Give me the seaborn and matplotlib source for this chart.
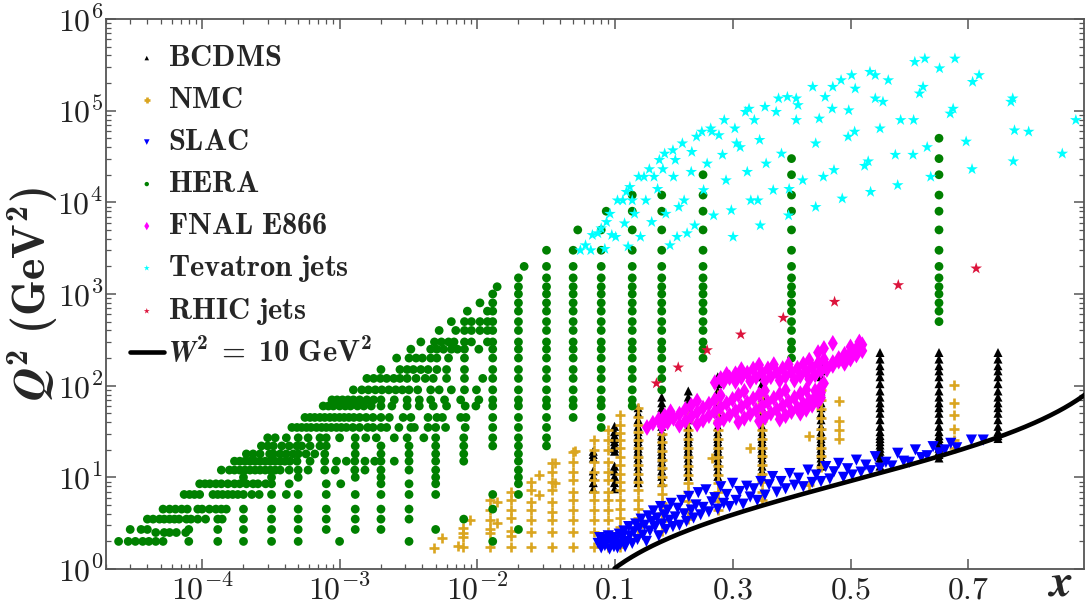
import numpy as np
import pandas as pd
import matplotlib
matplotlib.use("Agg")
import matplotlib.pyplot as plt
import seaborn as sns
from matplotlib.ticker import FixedLocator, FixedFormatter, NullFormatter, LogLocator

# ---------------- data ----------------
# HERA, low-x part: one row per Q^2 bin, listing the x values of that row
hera_row_q2 = [2.0, 2.5, 2.7, 3.5, 4.5, 6.5, 8.5, 10, 12, 15, 18, 22, 27, 35, 45,
               60, 70, 90, 120, 150, 200, 250, 300, 400, 500, 650, 800]
hera_row_x = [
    [2.47e-5, 2.9e-5, 3.27e-5, 3.7e-5, 4.1e-5, 4.6e-5, 5.2e-5, 8.0e-5, 1.3e-4, 2.0e-4, 3.2e-4, 5.0e-4, 1.0e-3, 3.2e-3],
    [4.6e-5, 5.3e-5, 5.8e-5, 6.5e-5, 7.6e-5],
    [3.0e-5, 3.6e-5, 4.0e-5, 8.0e-5, 1.3e-4, 2.0e-4, 3.2e-4, 5.0e-4, 8.0e-4, 1.3e-3, 2.0e-3, 5.0e-3],
    [4.0e-5, 4.4e-5, 4.9e-5, 5.3e-5, 5.8e-5, 6.3e-5, 6.8e-5, 7.7e-5, 8.3e-5, 9.3e-5, 1.06e-4, 1.3e-4, 1.4e-4,
     2.0e-4, 3.2e-4, 5.0e-4, 8.0e-4, 1.3e-3, 2.0e-3, 3.2e-3, 8.0e-3],
    [5.2e-5, 5.8e-5, 6.4e-5, 7.1e-5, 7.8e-5, 9.3e-5, 1.0e-4, 1.13e-4, 1.26e-4, 1.38e-4, 1.5e-4, 2.0e-4, 3.2e-4,
     5.0e-4, 8.0e-4, 1.3e-3, 2.0e-3, 3.2e-3],
    [7.4e-5, 8.1e-5, 8.8e-5, 9.6e-5, 1.2e-4, 1.3e-4, 1.41e-4, 1.54e-4, 1.67e-4, 1.82e-4, 2.0e-4, 2.3e-4, 2.6e-4,
     3.2e-4, 4.1e-4, 5.0e-4, 8.0e-4, 1.3e-3, 2.0e-3, 3.2e-3, 5.0e-3],
    [9.6e-5, 1.05e-4, 1.14e-4, 1.26e-4, 1.38e-4, 1.54e-4, 1.72e-4, 1.88e-4, 2.1e-4, 2.35e-4, 2.55e-4, 2.9e-4,
     3.2e-4, 4.3e-4, 8.0e-4, 1.02e-3, 2.0e-3, 3.2e-3, 5.0e-3],
    [2.0e-4, 3.2e-4, 5.0e-4, 1.3e-3, 2.0e-3, 5.0e-3],
    [1.38e-4, 1.58e-4, 1.72e-4, 1.88e-4, 2.05e-4, 2.23e-4, 2.43e-4, 2.64e-4, 2.88e-4, 3.13e-4, 3.4e-4, 3.7e-4,
     4.3e-4, 5.0e-4, 5.9e-4, 7.8e-4, 9.3e-4, 1.29e-3, 1.53e-3, 2.0e-3, 3.2e-3, 5.0e-3],
    [1.72e-4, 1.88e-4, 2.05e-4, 2.23e-4, 2.43e-4, 2.64e-4, 2.88e-4, 3.13e-4, 3.4e-4, 3.7e-4, 4.0e-4, 4.35e-4,
     4.9e-4, 6.1e-4, 7.8e-4, 9.5e-4, 1.12e-3, 1.29e-3, 1.53e-3, 1.8e-3, 2.0e-3, 2.5e-3, 3.2e-3, 5.0e-3, 8.0e-3],
    [2.1e-4, 2.35e-4, 2.64e-4, 3.1e-4, 3.3e-4, 3.7e-4, 4.1e-4, 4.6e-4, 5.0e-4, 5.7e-4, 6.6e-4, 7.8e-4, 1.3e-3,
     2.0e-3, 3.2e-3, 5.0e-3, 8.0e-3],
    [2.7e-4, 3.0e-4, 3.3e-4, 3.8e-4, 4.3e-4, 4.9e-4, 5.3e-4, 6.1e-4, 7.2e-4, 8.0e-4, 1.3e-3, 2.0e-3, 3.2e-3,
     5.0e-3, 8.0e-3],
    [3.0e-4, 3.4e-4, 4.1e-4, 5.0e-4, 5.9e-4, 7.2e-4, 8.0e-4, 1.0e-3, 1.3e-3, 1.55e-3, 1.85e-3, 2.5e-3, 3.1e-3,
     4.1e-3, 5.0e-3, 8.0e-3],
    [4.5e-4, 4.9e-4, 5.3e-4, 5.75e-4, 6.2e-4, 6.8e-4, 7.4e-4, 8.0e-4, 8.7e-4, 9.5e-4, 1.03e-3, 1.12e-3, 1.25e-3,
     1.4e-3, 1.6e-3, 1.75e-3, 2.0e-3, 2.2e-3, 2.7e-3, 3.3e-3, 3.5e-3, 4.4e-3, 5.0e-3, 5.9e-3, 8.2e-3],
    [5.6e-4, 6.1e-4, 6.6e-4, 7.2e-4, 7.8e-4, 8.5e-4, 9.2e-4, 1.0e-3, 1.08e-3, 1.17e-3, 1.27e-3, 1.4e-3, 1.56e-3,
     1.75e-3, 2.0e-3, 2.3e-3, 2.9e-3, 3.3e-3, 4.4e-3, 5.1e-3, 5.6e-3, 7.6e-3, 8.3e-3],
    [7.6e-4, 8.3e-4, 9.0e-4, 1.0e-3, 1.1e-3, 1.2e-3, 1.35e-3, 1.5e-3, 1.7e-3, 2.0e-3, 2.4e-3, 3.1e-3, 3.8e-3,
     4.8e-3, 6.0e-3, 8.2e-3, 9.8e-3],
    [8.8e-4, 9.6e-4, 1.05e-3, 1.15e-3, 1.26e-3, 1.4e-3, 1.58e-3, 1.77e-3, 2.0e-3, 2.5e-3, 3.1e-3, 3.8e-3, 4.6e-3,
     5.8e-3, 7.6e-3, 1.03e-2],
    [1.26e-3, 1.45e-3, 1.62e-3, 1.82e-3, 2.03e-3, 2.28e-3, 2.56e-3, 2.86e-3, 3.2e-3, 3.7e-3, 4.6e-3, 5.3e-3,
     6.5e-3, 8.1e-3, 9.9e-3],
    [1.58e-3, 1.77e-3, 1.98e-3, 2.2e-3, 2.48e-3, 2.75e-3, 3.1e-3, 3.6e-3, 4.2e-3, 4.8e-3, 6.0e-3, 8.1e-3, 1.1e-2],
    [2.0e-3, 2.75e-3, 3.1e-3, 3.44e-3, 3.9e-3, 4.4e-3, 5.1e-3, 6.0e-3, 8.1e-3],
    [2.6e-3, 3.2e-3, 3.6e-3, 4.0e-3, 4.6e-3, 5.1e-3, 6.2e-3, 8.1e-3],
    [3.3e-3, 4.6e-3, 5.1e-3, 5.7e-3, 6.5e-3, 7.2e-3, 8.1e-3, 1.03e-2],
    [3.9e-3, 4.9e-3, 5.5e-3, 6.2e-3, 6.8e-3, 8.1e-3, 9.1e-3, 1.19e-2],
    [5.3e-3, 7.0e-3, 8.1e-3, 9.1e-3, 1.05e-2, 1.19e-2],
    [6.5e-3, 8.1e-3, 9.1e-3, 1.05e-2, 1.19e-2],
    [8.5e-3, 1.19e-2],
    [1.05e-2],
]
# HERA, high-x part: one column per x value, listing its Q^2 values
hera_col_x = [0.013, 0.014, 0.02, 0.022, 0.032, 0.05, 0.054, 0.08, 0.087, 0.13, 0.18, 0.25, 0.4, 0.65]
hera_col_q2 = [
    [2.0, 4.5, 6.5, 22, 27, 35, 45, 60, 70, 90, 120, 150, 200, 250, 300, 400, 500, 650, 800, 1000],
    [1200],
    [2.7, 6.5, 8.5, 10, 12, 15, 18, 22, 27, 35, 45, 60, 70, 90, 120, 150, 200, 250, 300, 400, 500, 650, 800,
     1000, 1200, 1500],
    [2000],
    [22, 27, 35, 45, 60, 70, 90, 120, 150, 200, 250, 300, 400, 500, 650, 800, 1000, 1200, 1500, 2000, 3000],
    [45, 60, 70, 90, 120, 150, 200, 250, 300, 400, 500, 650, 800, 1000, 1200, 1500, 2000, 3000],
    [5000],
    [35, 45, 60, 70, 90, 120, 150, 200, 250, 300, 400, 500, 650, 800, 1000, 1200, 1500, 2000, 3000, 5000],
    [8000],
    [60, 70, 90, 120, 150, 200, 250, 300, 400, 500, 650, 800, 1000, 1200, 1500, 2000, 3000, 5000, 8000, 12000],
    [90, 120, 150, 200, 250, 300, 400, 500, 650, 800, 1000, 1200, 1500, 2000, 3000, 5000, 8000, 12000],
    [200, 250, 300, 400, 500, 650, 800, 1000, 1200, 1500, 2000, 3000, 5000, 8000, 12000, 20000],
    [200, 250, 300, 400, 500, 650, 800, 1000, 1200, 1500, 2000, 3000, 5000, 8000, 12000, 20000, 30000],
    [500, 650, 800, 1000, 1200, 1500, 2000, 3000, 5000, 8000, 12000, 20000, 30000, 50000],
]

# BCDMS columns
bcdms_x = [0.07, 0.10, 0.14, 0.18, 0.225, 0.275, 0.35, 0.45, 0.55, 0.65, 0.75]
bcdms_q2 = [
    [7.5, 8.75, 10.25, 11.75, 16.25, 17.75, 19.25],
    [7.5, 8.75, 10.25, 11.75, 13.25, 19.25, 20.75, 22.5, 24.5, 26.5, 28.5, 31.5, 36],
    [8.75, 10.25, 11.75, 13.25, 14.75, 16.25, 17.75, 19.25, 20.75, 22.5, 24.5, 26.5, 28.5, 31.5, 36, 42.5, 50, 57.5],
    [8.75, 10.25, 11.75, 13.25, 14.75, 16.25, 17.75, 19.25, 20.75, 22.5, 24.5, 26.5, 28.5, 31.5, 36, 42.5, 50,
     57.5, 65, 75],
    [10.25, 11.75, 13.25, 14.75, 16.25, 17.75, 19.25, 20.75, 22.5, 24.5, 26.5, 28.5, 31.5, 36, 42.5, 50, 57.5,
     65, 75, 87.5],
    [10.25, 11.75, 13.25, 14.75, 16.25, 17.75, 19.25, 20.75, 22.5, 24.5, 26.5, 28.5, 31.5, 36, 42.5, 50, 57.5,
     65, 75, 87.5, 105, 125],
    [10.25, 11.75, 13.25, 14.75, 16.25, 17.75, 19.25, 20.75, 22.5, 24.5, 26.5, 28.5, 31.5, 36, 42.5, 50, 57.5,
     65, 75, 87.5, 105, 125],
    [13.25, 14.75, 16.25, 17.75, 19.25, 20.75, 22.5, 24.5, 26.5, 28.5, 31.5, 36, 42.5, 50, 57.5, 65, 75, 87.5,
     105, 125, 145, 165],
    [13.25, 14.75, 16.25, 17.75, 19.25, 20.75, 22.5, 24.5, 26.5, 28.5, 31.5, 36, 42.5, 50, 57.5, 65, 75, 87.5,
     105, 125, 145, 165, 195, 230],
    [16.25, 17.75, 19.25, 20.75, 22.5, 24.5, 26.5, 28.5, 31.5, 36, 42.5, 50, 57.5, 65, 75, 87.5, 105, 125, 145,
     165, 195, 230],
    [26.5, 28.5, 31.5, 36, 42.5, 50, 57.5, 65, 75, 87.5, 105, 125, 145, 165, 195, 230],
]

# NMC columns
nmc_x = [0.0049, 0.0056, 0.0073, 0.0079, 0.0089, 0.0125, 0.014, 0.0176, 0.0247, 0.028, 0.035, 0.037, 0.05,
         0.052, 0.071, 0.09, 0.11, 0.14, 0.18, 0.225, 0.265, 0.275, 0.33, 0.35, 0.43, 0.45, 0.48, 0.675]
nmc_q2 = [
    [1.7], [2.2], [1.8], [1.75, 2.25, 2.5, 2.8], [3.4],
    [1.75, 2.5, 2.7, 3.4, 4.4, 5.7], [3.2, 5.4],
    [1.75, 2.3, 2.6, 3.6, 4.4, 5.7, 7.0],
    [1.75, 2.55, 3.4, 4.4, 5.4, 7.3, 8.9], [6.4, 10.6],
    [1.75, 2.55, 3.4, 4.2, 5.4, 7.3, 8.9, 11.5, 14.2], [8.6, 14.2],
    [1.75, 2.55, 3.4, 4.4, 5.7, 7.0, 9.3, 11.5, 14.8, 19.0], [19.5],
    [1.75, 2.55, 3.4, 4.4, 5.7, 7.0, 9.3, 11.5, 14.8, 19.8, 25.6],
    [1.75, 2.55, 3.4, 4.4, 5.7, 7.0, 9.3, 11.5, 14.8, 19.8, 25.6, 32.8],
    [1.75, 2.25, 2.9, 3.6, 4.5, 5.7, 7.3, 9.0, 11.0, 13.6, 16.8, 20.7, 25.5, 30.7, 37.1, 47.8],
    [2.3, 2.9, 3.6, 4.5, 5.7, 7.3, 9.0, 11.0, 13.6, 16.8, 20.7, 25.5, 31.0, 37.0, 46.0, 57.0],
    [2.6, 3.3, 4.1, 5.2, 6.5, 8.2, 10.2, 12.6, 15.6, 19.4, 24.0, 30.0, 37.0, 46.0],
    [3.5, 4.4, 5.5, 6.9, 8.6, 10.7, 13.4, 16.8, 21.0, 26.0, 33.0, 41.0, 48.0],
    [16.2],
    [4.4, 5.5, 6.9, 8.6, 10.7, 13.4, 16.8, 21.0, 26.0, 33.0, 41.0, 52.0, 65.0, 80.0],
    [20.7],
    [5.7, 7.0, 8.8, 11.0, 13.6, 17.0, 21.0, 26.0, 33.0, 41.0, 52.0, 65.0, 78.0],
    [8.2, 28.0],
    [13.0, 17.0, 21.0, 27.0, 34.0, 44.0, 56.0, 70.0, 90.0],
    [26.0, 33.0, 41.0, 68.0],
    [20.7, 25.5, 34.0, 48.0, 64.0, 101.0],
]

# SLAC points
slac_x = [0.076, 0.078, 0.080, 0.083, 0.085, 0.088, 0.090, 0.092, 0.095, 0.097, 0.099,
          0.102, 0.105, 0.108, 0.110, 0.113, 0.116, 0.118, 0.121, 0.124, 0.126, 0.130, 0.133, 0.136, 0.139,
          0.142, 0.145, 0.148, 0.151, 0.154, 0.157, 0.160, 0.163, 0.166, 0.169, 0.172, 0.175, 0.178, 0.181,
          0.184, 0.187, 0.190, 0.193, 0.196, 0.199,
          0.203, 0.207, 0.210, 0.214, 0.218, 0.222, 0.226, 0.230, 0.234, 0.238, 0.242, 0.246, 0.250, 0.255,
          0.260, 0.265, 0.270, 0.275, 0.280, 0.285, 0.290, 0.295, 0.300, 0.306, 0.312, 0.318, 0.324, 0.330,
          0.336, 0.342, 0.348,
          0.355, 0.362, 0.368, 0.375, 0.382, 0.390, 0.397, 0.405, 0.412, 0.420, 0.428, 0.435, 0.442, 0.450,
          0.458, 0.465, 0.472, 0.480, 0.488, 0.495, 0.503, 0.510, 0.518, 0.526, 0.534, 0.542, 0.550,
          0.560, 0.570, 0.580, 0.590, 0.600, 0.610, 0.620, 0.630, 0.640, 0.650, 0.660, 0.670, 0.680, 0.705,
          0.725]
slac_q2 = [1.9, 2.2, 1.7, 2.1, 1.8, 2.0, 2.3, 1.65, 1.95, 2.2, 1.75,
           2.05, 1.7, 2.4, 1.85, 2.2, 2.6, 1.75, 2.0, 2.9, 2.3, 1.9, 2.55, 3.1, 2.1,
           2.8, 3.5, 2.35, 3.0, 2.0, 3.8, 2.6, 3.3, 4.3, 2.9, 3.6, 2.3, 4.8, 3.1,
           3.9, 2.7, 4.4, 3.4, 5.2, 2.9,
           3.7, 4.6, 3.0, 5.6, 4.0, 3.3, 6.2, 4.4, 3.6, 5.0, 6.8, 3.9, 4.7, 7.3,
           4.2, 5.4, 6.0, 4.5, 7.9, 5.2, 6.5, 4.8, 8.6, 5.6, 7.0, 5.1, 8.0, 6.1,
           7.5, 5.6, 9.0,
           6.4, 8.3, 10.2, 6.9, 9.0, 7.5, 11.0, 8.2, 9.8, 7.9, 12.0, 8.8, 10.6, 9.0,
           13.1, 9.6, 11.5, 14.2, 10.0, 12.4, 10.6, 15.4, 11.4, 13.6, 11.8, 16.8, 12.6,
           14.6, 13.3, 18.3, 15.0, 14.6, 19.9, 16.4, 17.2, 21.6, 18.5, 19.9, 23.5, 21.0, 25.5,
           25.5]

# FNAL E866 points (lower and upper bands)
e866_x = [0.155, 0.165, 0.175, 0.185, 0.195,
          0.18, 0.19, 0.20, 0.21, 0.22, 0.23, 0.24,
          0.21, 0.22, 0.23, 0.24, 0.25, 0.26, 0.27, 0.28,
          0.24, 0.25, 0.26, 0.27, 0.28, 0.29, 0.30, 0.31, 0.32,
          0.275, 0.285, 0.295, 0.305, 0.315, 0.325, 0.335, 0.345, 0.355,
          0.31, 0.32, 0.33, 0.34, 0.35, 0.36, 0.37, 0.38, 0.39,
          0.345, 0.355, 0.365, 0.375, 0.385, 0.395, 0.405, 0.415, 0.425,
          0.38, 0.39, 0.40, 0.41, 0.42, 0.43, 0.44, 0.45,
          0.415, 0.425, 0.435, 0.445, 0.45, 0.44, 0.45, 0.455,
          0.27, 0.28, 0.29,
          0.285, 0.295, 0.305, 0.315,
          0.305, 0.315, 0.325, 0.335, 0.345,
          0.33, 0.34, 0.35, 0.36, 0.37,
          0.355, 0.365, 0.375, 0.385, 0.395,
          0.38, 0.39, 0.40, 0.41, 0.42, 0.43,
          0.405, 0.415, 0.425, 0.435, 0.445, 0.455,
          0.43, 0.44, 0.45, 0.46, 0.47, 0.48, 0.49,
          0.46, 0.47, 0.48, 0.49, 0.50, 0.51, 0.52,
          0.49, 0.50, 0.51, 0.52,
          0.445, 0.455, 0.47, 0.50, 0.515]
e866_q2 = [35, 39, 43, 47, 52,
           36, 40, 44, 49, 55, 61, 68,
           37, 41, 46, 51, 57, 63, 70, 78,
           38, 42, 47, 52, 58, 64, 71, 79, 87,
           39, 43, 48, 53, 59, 65, 72, 80, 88,
           40, 44, 49, 54, 60, 66, 73, 81, 89,
           41, 45, 50, 55, 61, 67, 74, 82, 90,
           43, 47, 52, 57, 63, 69, 76, 84,
           50, 55, 61, 67, 74, 88, 98, 106,
           108, 120, 133,
           110, 122, 135, 150,
           111, 123, 137, 152, 168,
           112, 124, 138, 153, 170,
           113, 125, 139, 154, 171,
           114, 126, 140, 155, 172, 190,
           115, 128, 142, 158, 175, 194,
           118, 131, 145, 161, 179, 198, 220,
           150, 166, 185, 205, 228, 253, 280,
           175, 195, 216, 240,
           230, 255, 290, 265, 300]

# Tevatron jets
tev_x = [0.0564, 0.0615, 0.0672, 0.069, 0.0756, 0.080, 0.085, 0.0875, 0.0927, 0.0955, 0.102, 0.105, 0.114,
         0.117, 0.120, 0.123, 0.126, 0.130, 0.134, 0.141, 0.144, 0.150, 0.153, 0.159, 0.163, 0.167, 0.173,
         0.176, 0.182, 0.185, 0.187, 0.194, 0.199, 0.200, 0.203, 0.206, 0.209, 0.215, 0.218, 0.223, 0.230,
         0.231, 0.236, 0.239, 0.248, 0.251, 0.257, 0.263, 0.265, 0.268, 0.277, 0.283, 0.286, 0.289, 0.298,
         0.301, 0.304, 0.307, 0.313, 0.322, 0.325, 0.328, 0.331, 0.337, 0.343, 0.346, 0.347, 0.355, 0.357,
         0.369, 0.374, 0.378, 0.383, 0.393, 0.396, 0.395, 0.408, 0.408, 0.411, 0.419, 0.436, 0.441, 0.441,
         0.447, 0.454, 0.457, 0.469, 0.470, 0.472, 0.484, 0.486, 0.496, 0.497, 0.502, 0.507, 0.508, 0.524,
         0.530, 0.533, 0.534, 0.542, 0.542, 0.550, 0.555, 0.564, 0.576, 0.580, 0.585, 0.606, 0.607, 0.609,
         0.617, 0.623, 0.626, 0.630, 0.636, 0.651, 0.669, 0.674, 0.677, 0.696, 0.706, 0.707, 0.718, 0.772,
         0.775, 0.776, 0.778, 0.802, 0.859, 0.882]
tev_q2 = [3000, 3400, 3000, 4400, 4600, 5200, 3100, 6100, 7500, 4400, 4200, 10500, 10500,
          5900, 13000, 3300, 14700, 10500, 7500, 19000, 4200, 19000, 10500, 23000, 6100, 19000, 14000,
          29000, 23000, 34000, 7500, 3400, 37000, 19000, 29000, 4200, 8900, 44000, 10500, 4600, 21500,
          35500, 5600, 52000, 59000, 13600, 26500, 64000, 59000, 7200, 54000, 33000, 79000, 17400, 8200,
          4200, 64000, 44000, 40000, 97000, 21500, 105000, 10500, 79000, 10500, 48000, 5600, 110000, 26500,
          13600, 97000, 136000, 34000, 141000, 14000, 7200, 136000, 79000, 115000, 17400, 182000, 8900, 44000,
          82000, 19000, 141000, 105000, 182000, 22500, 215000, 11000, 52000, 101000, 244000, 59000, 174000,
          25000, 28000, 265000, 13000, 244000, 136000, 64000, 125000, 215000, 33000, 15400, 79000, 33000,
          79000, 340000, 154000, 182000, 370000, 40000, 19000, 290000, 93000, 105000, 370000, 46000, 23000,
          206000, 244000, 125000, 136000, 28000, 61000, 59000, 34000, 79000]

# RHIC jets
rhic_x = [0.171, 0.208, 0.257, 0.314, 0.386, 0.473, 0.581, 0.713]
rhic_q2 = [106, 158, 244, 362, 550, 822, 1250, 1900]

# W^2 = 10 GeV^2 boundary
w2_value = 10.0
proton_mass = 0.938
curve_x_range = (0.1, 0.9)

# tick labels
x_major = [1e-4, 1e-3, 1e-2, 0.1, 0.3, 0.5, 0.7]
x_major_labels = [r"$10^{-4}$", r"$10^{-3}$", r"$10^{-2}$", r"$0.1$", r"$0.3$", r"$0.5$", r"$0.7$"]
y_major = [1, 10, 100, 1e3, 1e4, 1e5, 1e6]
y_major_labels = [r"$10^{0}$", r"$10^{1}$", r"$10^{2}$", r"$10^{3}$", r"$10^{4}$", r"$10^{5}$", r"$10^{6}$"]

# ---------------- assemble ----------------
def from_rows(name, q2s, xlists):
    assert len(q2s) == len(xlists)
    return [(name, xv, q) for q, xs in zip(q2s, xlists) for xv in xs]

def from_cols(name, xs, q2lists):
    assert len(xs) == len(q2lists)
    return [(name, xv, q) for xv, qs in zip(xs, q2lists) for q in qs]

assert len(slac_x) == len(slac_q2)
assert len(e866_x) == len(e866_q2)
assert len(tev_x) == len(tev_q2)

recs = []
recs += from_cols("BCDMS", bcdms_x, bcdms_q2)
recs += from_cols("NMC", nmc_x, nmc_q2)
recs += [("SLAC", a, b) for a, b in zip(slac_x, slac_q2)]
recs += from_rows("HERA", hera_row_q2, hera_row_x)
recs += from_cols("HERA", hera_col_x, hera_col_q2)
recs += [("FNAL E866", a, b) for a, b in zip(e866_x, e866_q2)]
recs += [("Tevatron jets", a, b) for a, b in zip(tev_x, tev_q2)]
recs += [("RHIC jets", a, b) for a, b in zip(rhic_x, rhic_q2)]
df = pd.DataFrame(recs, columns=["set", "x", "Q2"])

cx = np.linspace(curve_x_range[0], curve_x_range[1], 300)
curve = pd.DataFrame({"x": cx, "Q2": (w2_value - proton_mass ** 2) * cx / (1 - cx)})

# ---------------- style ----------------
sns.set_style("ticks")
plt.rcParams.update({
    "mathtext.fontset": "custom",
    "mathtext.rm": "cmr10",
    "mathtext.it": "cmmi10",
    "mathtext.bf": "cmb10",
    "mathtext.bfit": "STIXGeneral:italic:bold",
    "mathtext.fallback": "cm",
    "font.family": ["DejaVu Serif"],
    "axes.unicode_minus": False,
    "xtick.direction": "in", "ytick.direction": "in",
    "xtick.top": True, "ytick.right": True,
})

W, H = 1089, 607
fig = plt.figure(figsize=(W / 100, H / 100), dpi=100)
ax = fig.add_axes([106 / W, 38 / H, 978 / W, 550 / H])

styles = [
    ("BCDMS", "black", "^", 42, r"$\mathbf{BCDMS}$"),
    ("NMC", "goldenrod", "+", 55, r"$\mathbf{NMC}$"),
    ("SLAC", "blue", "v", 65, r"$\mathbf{SLAC}$"),
    ("HERA", "green", "o", 40, r"$\mathbf{HERA}$"),
    ("FNAL E866", "magenta", "d", 72, r"$\mathbf{FNAL\ E866}$"),
    ("Tevatron jets", "cyan", "*", 78, r"$\mathbf{Tevatron\ jets}$"),
    ("RHIC jets", "crimson", "*", 78, r"$\mathbf{RHIC\ jets}$"),
]
for z, (name, col, mk, s, lab) in enumerate(styles):
    sub = df[df["set"] == name]
    if mk == "+":
        sns.scatterplot(data=sub, x="x", y="Q2", ax=ax, color=col, marker=mk, s=s,
                        linewidth=1.9, label=lab, zorder=2 + z)
    else:
        sns.scatterplot(data=sub, x="x", y="Q2", ax=ax, color=col, marker=mk, s=s,
                        edgecolor="none", linewidth=0, label=lab, zorder=2 + z)

sns.lineplot(data=curve, x="x", y="Q2", ax=ax, color="black", linewidth=3.3,
             label=r"$\boldsymbol{W}^{\mathbf{2}}\;\mathbf{=}\;\mathbf{10\ GeV}^{\mathbf{2}}$", zorder=20)

# ---------------- mixed log / linear x axis ----------------
K = 590.0 / 137.5  # screen width of one unit of x (linear part) relative to one decade (log part)

def fwd(v):
    v = np.asarray(v, dtype=float)
    lg = np.log10(np.where(v > 0, v, 1e-300)) + 1.0
    return np.where(v <= 0.1, lg, (v - 0.1) * K)

def inv(u):
    u = np.asarray(u, dtype=float)
    return np.where(u <= 0, 10.0 ** (np.minimum(u, 0) - 1.0), 0.1 + u / K)

ax.set_xscale("function", functions=(fwd, inv))
ax.set_yscale("log")
ax.set_xlim(2.0e-5, 0.8958)
ax.set_ylim(1, 1e6)

x_minor = [k * 10.0 ** e for e in (-5, -4, -3, -2) for k in range(2, 10)]
ax.xaxis.set_major_locator(FixedLocator(x_major))
ax.xaxis.set_major_formatter(FixedFormatter(x_major_labels))
ax.xaxis.set_minor_locator(FixedLocator(x_minor))
ax.xaxis.set_minor_formatter(NullFormatter())
ax.yaxis.set_major_locator(FixedLocator(y_major))
ax.yaxis.set_major_formatter(FixedFormatter(y_major_labels))
ax.yaxis.set_minor_locator(LogLocator(base=10, subs=np.arange(2, 10), numticks=100))
ax.yaxis.set_minor_formatter(NullFormatter())

spine_col = "#555555"
for sp in ax.spines.values():
    sp.set_color(spine_col)
    sp.set_linewidth(1.3)
ax.tick_params(which="both", direction="in", top=True, right=True, color=spine_col,
               labelcolor="#222222", labelsize=23)
ax.tick_params(which="major", length=7, width=1.1)
ax.tick_params(which="minor", length=3.5, width=0.9)
ax.tick_params(axis="y", pad=2)
ax.tick_params(axis="x", pad=21.5)
for t in ax.get_xticklabels():
    t.set_verticalalignment("baseline")

ax.set_ylabel(r"$\boldsymbol{Q}^{\mathbf{2}}\ \mathbf{(GeV}^{\mathbf{2}}\mathbf{)}$", fontsize=33,
              ha="center", va="center")
ax.yaxis.set_label_coords(-0.0746, 0.50)
ax.set_xlabel(r"$\boldsymbol{x}$", fontsize=33, ha="center", va="baseline")
ax.xaxis.set_label_coords(0.9755, -0.048)

handles, labels = ax.get_legend_handles_labels()
leg = ax.legend(handles, labels, loc="upper left", bbox_to_anchor=(0.0245, 0.958),
                frameon=False, fontsize=22, borderpad=0, borderaxespad=0,
                handlelength=1.1, handletextpad=0.15, labelspacing=0.36, markerscale=0.5)

fig.savefig("out.png", dpi=100)
